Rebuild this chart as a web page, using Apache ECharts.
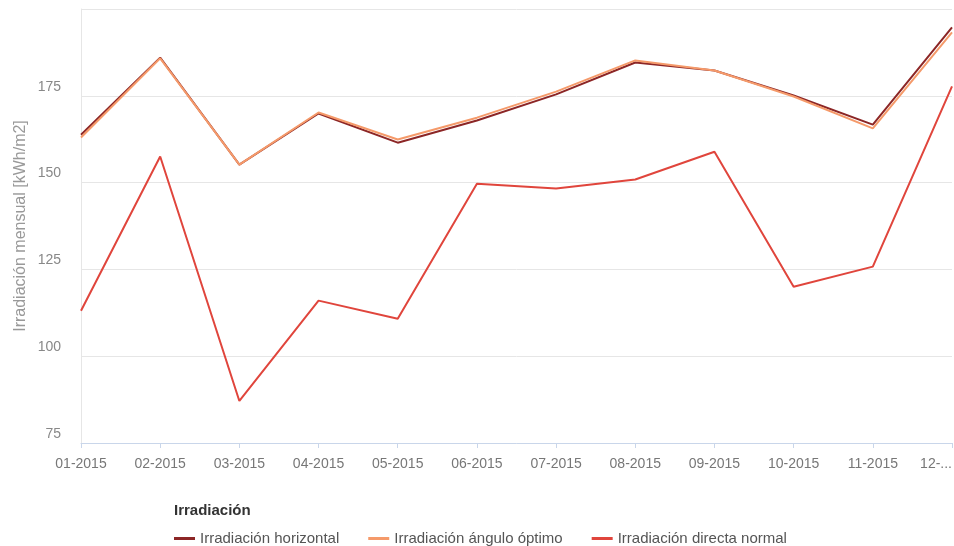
<!DOCTYPE html>
<html lang="es">
<head>
  <meta charset="UTF-8">
  <title>Irradiación</title>
  <style>
    html, body, #chart {
      margin: 0;
      padding: 0;
      width: 100%;
      height: 100%;
      background: #fff;
    }
  </style>
</head>
<body>
<div id="chart"></div>

<script src="https://cdn.jsdelivr.net/npm/echarts@6/dist/echarts.min.js"></script>
<script>
  var months = ['01-2015', '02-2015', '03-2015', '04-2015', '05-2015', '06-2015',
    '07-2015', '08-2015', '09-2015', '10-2015', '11-2015', '12-2015'];
  var horizontal = [163.8, 186.0, 155.2, 169.9, 161.5, 167.9, 175.4, 184.6, 182.3, 175.1, 166.7, 194.7];
  var optimo = [163.0, 185.8, 155.2, 170.2, 162.4, 168.7, 176.2, 185.2, 182.3, 174.8, 165.6, 193.3];
  var directa = [113.1, 157.5, 87.1, 116.0, 110.8, 149.7, 148.3, 150.9, 158.9, 120.0, 125.8, 177.7];
  var names = ['Irradiación horizontal', 'Irradiación ángulo óptimo', 'Irradiación directa normal'];
  var colors = ['#8c2626', '#f59a6a', '#e0453c'];

  var chart = echarts.init(document.getElementById('chart'));

  function lineSeries(name, data, color) {
    return {
      name: name,
      type: 'line',
      data: data,
      symbol: 'none',
      lineStyle: { width: 2, color: color },
      itemStyle: { color: color }
    };
  }

  chart.setOption({
    animation: false,
    textStyle: { fontFamily: 'Liberation Sans, Arial, sans-serif' },
    title: {
      text: 'Irradiación',
      left: 169,
      top: 498,
      textStyle: { fontSize: 15, fontWeight: 'bold', color: '#333' }
    },
    legend: {
      data: names,
      left: 169,
      top: 526,
      icon: 'rect',
      itemWidth: 21,
      itemHeight: 3,
      itemGap: 29,
      textStyle: { fontSize: 15, color: '#555' }
    },
    grid: { left: 81, right: 2, top: 9, bottom: 103, outerBoundsMode: 'none' },
    xAxis: {
      type: 'category',
      data: months,
      boundaryGap: false,
      axisLine: { lineStyle: { color: '#c9d6ea' } },
      axisTick: { length: 5, lineStyle: { color: '#c9d6ea' } },
      axisLabel: {
        color: '#777',
        fontSize: 14,
        margin: 14,
        alignMaxLabel: 'right',
        formatter: function (v, i) {
          return i === months.length - 1 ? v.slice(0, 3) + '...' : v;
        }
      }
    },
    yAxis: {
      type: 'value',
      min: 75,
      max: 200,
      interval: 25,
      name: 'Irradiación mensual [kWh/m2]',
      nameLocation: 'middle',
      nameGap: 52,
      nameMoveOverlap: false,
      nameTextStyle: { color: '#999', fontSize: 16 },
      axisLine: { show: true, lineStyle: { color: '#e6e6e6' } },
      axisTick: { show: false },
      axisLabel: {
        color: '#888',
        fontSize: 14,
        margin: 20,
        showMaxLabel: false,
        verticalAlign: 'bottom',
        lineHeight: 18
      },
      splitLine: { lineStyle: { color: '#e6e6e6' } }
    },
    series: [
      lineSeries(names[0], horizontal, colors[0]),
      lineSeries(names[1], optimo, colors[1]),
      lineSeries(names[2], directa, colors[2])
    ]
  });
</script>
</body>
</html>
